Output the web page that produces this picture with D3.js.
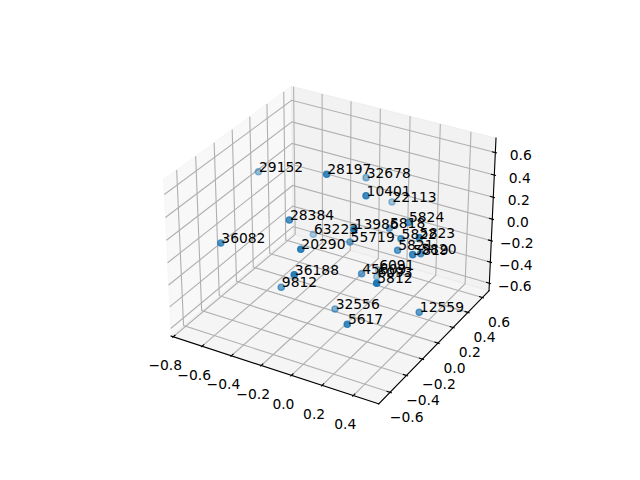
<!DOCTYPE html>
<html><head><meta charset="utf-8"><style>html,body{margin:0;background:#fff}svg{display:block}text{font-family:"DejaVu Sans";font-size:13.89px;fill:#000}</style></head>
<body><script src="https://cdn.jsdelivr.net/npm/d3@7"></script><svg id="chart" width="640" height="480"></svg>
<script>
const labels=["29152","28197","32678","10401","22113","5824","5818","13986","63223","55719","5822","5823","5821","5820","5819","28384","36082","20290","36188","9812","45609","6091","6093","5812","32556","5617","12559"];
const xs=[-.721,-.133,-.132,.090,-.019,.282,.115,.163,-.405,-.063,.269,.410,.242,.388,.402,-.281,-.618,-.124,-.091,-.314,.069,-.041,.014,.347,-.069,.180,.439];
const ys=[.131,-.084,.393,-.023,.514,.139,.225,-.300,.235,.070,.075,.026,.088,.095,-.036,-.259,-.471,-.402,-.535,-.306,-.029,.394,.267,-.369,-.100,-.405,-.008];
const zs=[.306,.626,.307,.484,.052,.219,.046,.395,-.218,-.048,.109,.206,-.014,.009,.093,.279,.080,.174,.052,-.310,-.218,-.515,-.470,.043,-.553,-.369,-.433];
const xTicks=[-.8,-.6,-.4,-.2,0,.2,.4],yTicks=[-.6,-.4,-.2,0,.2,.4,.6],zTicks=[-.6,-.4,-.2,0,.2,.4,.6];
const xLim=[-.815,.561],yLim=[-.735,.694],zLim=[-.671,.728];
const fmt=t=>d3.format(".1f")(t);

const svg=d3.select("#chart");
const rx=.59525,rz=.44644;
const sx=d3.scaleLinear().domain(xLim).range([-rx,rx]);
const sy=d3.scaleLinear().domain(yLim).range([-rx,rx]);
const sz=d3.scaleLinear().domain(zLim).range([-rz,rz]);
// matplotlib default view: azim -60, elev 30, dist 10, focal length 1
const az=-60*Math.PI/180,el=30*Math.PI/180,dist=10;
const w=[Math.cos(el)*Math.cos(az),Math.cos(el)*Math.sin(az),Math.sin(el)];
const u=[-w[1],w[0],0].map(t=>t/Math.hypot(w[0],w[1]));
const v=[w[1]*u[2]-w[2]*u[1],w[2]*u[0]-w[0]*u[2],w[0]*u[1]-w[1]*u[0]];
const dot=(a,b)=>a[0]*b[0]+a[1]*b[1]+a[2]*b[2];
const sw=d3.scaleLinear().domain([-.95,.9].map(t=>t/dist)).range([143.2,512.8]);
const sh=d3.scaleLinear().domain([-.95,.9].map(t=>t/dist)).range([427.2,57.6]);
const world=(x,y,z)=>[sx(x),sy(y),sz(z)];
const depth=(x,y,z)=>dot(world(x,y,z),w);
const proj=(x,y,z)=>{const q=world(x,y,z),f=dist-dot(q,w);return [sw(dot(q,u)/f),sh(dot(q,v)/f)];};
const line=pts=>d3.line()(pts.map(p=>proj(...p)));
const [x0,x1]=xLim,[y0,y1]=yLim,[z0,z1]=zLim;

const panes=[
 {c:"rgba(242,242,242,.5)",p:[[x0,y0,z0],[x0,y1,z0],[x0,y1,z1],[x0,y0,z1]]},
 {c:"rgba(230,230,230,.5)",p:[[x0,y1,z0],[x1,y1,z0],[x1,y1,z1],[x0,y1,z1]]},
 {c:"rgba(236,236,236,.5)",p:[[x0,y0,z0],[x1,y0,z0],[x1,y1,z0],[x0,y1,z0]]}];
svg.append("g").selectAll("path").data(panes).join("path").attr("d",d=>line(d.p)+"Z").attr("fill",d=>d.c).attr("stroke",d=>d.c).attr("stroke-width",1);

const grid=[
 ...xTicks.map(t=>[[t,y0,z0],[t,y1,z0],[t,y1,z1]]),
 ...yTicks.map(t=>[[x1,t,z0],[x0,t,z0],[x0,t,z1]]),
 ...zTicks.map(t=>[[x0,y0,t],[x0,y1,t],[x1,y1,t]])];
svg.append("g").selectAll("path").data(grid).join("path").attr("d",line).attr("fill","none").attr("stroke","#b0b0b0").attr("stroke-width",1.11);

const axisLines=[[[x0,y0,z0],[x1,y0,z0]],[[x1,y0,z0],[x1,y1,z0]],[[x1,y1,z0],[x1,y1,z1]]];
svg.append("g").selectAll("path").data(axisLines).join("path").attr("d",line).attr("stroke","#000").attr("stroke-width",1.11).attr("fill","none").attr("stroke-linecap","square");

const dxT=(x1-x0)/12.5,dyT=(y1-y0)/12.5;
const ticks=[
 ...xTicks.map(t=>[[t,y0-.1*dyT,z0],[t,y0+.2*dyT,z0]]),
 ...yTicks.map(t=>[[x1+.1*dxT,t,z0],[x1-.2*dxT,t,z0]]),
 ...zTicks.map(t=>[[x1+.1*dxT,y1,t],[x1-.2*dxT,y1,t]])];
svg.append("g").selectAll("path").data(ticks).join("path").attr("d",line).attr("stroke","#000").attr("stroke-width",1.11);

const tickText=[
 ...xTicks.map(t=>({t,p:proj(t,y0,z0),dx:-8,dy:28.5})),
 ...yTicks.map(t=>({t,p:proj(x1,t,z0),dx:16.6,dy:24.5})),
 ...zTicks.map(t=>({t,p:proj(x1,y1,t),dx:25.5,dy:2.5}))];
svg.append("g").selectAll("text").data(tickText).join("text")
 .attr("x",d=>d.p[0]+d.dx).attr("y",d=>d.p[1]+d.dy).attr("text-anchor","middle").attr("dominant-baseline","central")
 .text(d=>fmt(d.t).replace("-","\u2212"));

const pts=labels.map((l,i)=>({l,x:xs[i],y:ys[i],z:zs[i],d:depth(xs[i],ys[i],zs[i])}));
const alpha=d3.scaleLinear().domain(d3.extent(pts,d=>d.d)).range([.3,1]);
const r=Math.sqrt(20)/2*100/72;
svg.append("g").selectAll("circle").data(pts.slice().sort((a,b)=>a.d-b.d)).join("circle")
 .attr("cx",d=>proj(d.x,d.y,d.z)[0]).attr("cy",d=>proj(d.x,d.y,d.z)[1]).attr("r",r)
 .attr("fill","#1f77b4").attr("fill-opacity",d=>alpha(d.d))
 .attr("stroke","#1f77b4").attr("stroke-opacity",d=>alpha(d.d)).attr("stroke-width",1.39);
svg.append("g").selectAll("text").data(pts).join("text")
 .attr("x",d=>proj(d.x,d.y,d.z)[0]+.6).attr("y",d=>proj(d.x,d.y,d.z)[1]).text(d=>d.l);
</script></body></html>
